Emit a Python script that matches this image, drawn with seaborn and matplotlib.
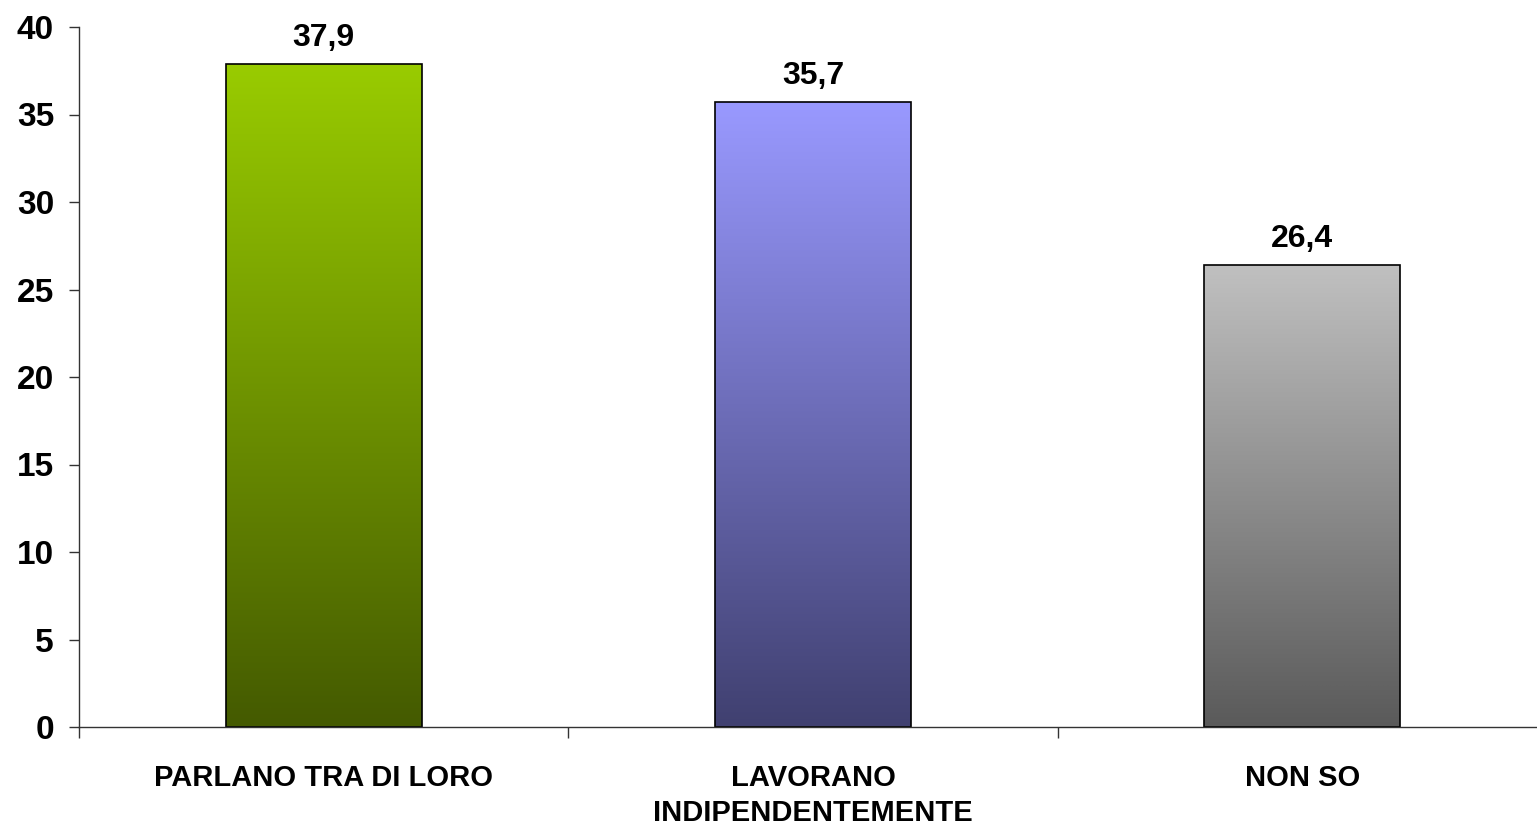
import numpy as np
import pandas as pd
import matplotlib
matplotlib.use("Agg")
import matplotlib.pyplot as plt
from matplotlib.colors import LinearSegmentedColormap
import seaborn as sns

categories = ["PARLANO TRA DI LORO", "LAVORANO\nINDIPENDENTEMENTE", "NON SO"]
values = [37.9, 35.7, 26.4]
value_labels = ["37,9", "35,7", "26,4"]
top_colors = ["#99cc00", "#9999ff", "#c0c0c0"]
bottom_colors = ["#445a00", "#404070", "#5a5a5a"]
y_ticks = [0, 5, 10, 15, 20, 25, 30, 35, 40]

sns.set_theme(style="white")
plt.rcParams["font.family"] = ["Liberation Sans", "DejaVu Sans"]
plt.rcParams["text.color"] = "black"
plt.rcParams["xtick.color"] = "black"
plt.rcParams["ytick.color"] = "black"

fig = plt.figure(figsize=(15.37, 8.26), dpi=100)
ax = fig.add_axes([79 / 1537, 1 - 727 / 826, 1468 / 1537, 700 / 826])

df = pd.DataFrame({"cat": categories, "val": values})
sns.barplot(data=df, x="cat", y="val", ax=ax, width=0.4,
            color="white", edgecolor="black", linewidth=1.2, saturation=1)

# vertical gradient fill for each bar, clipped to the bar outline
for patch, c_top, c_bot in zip(ax.patches, top_colors, bottom_colors):
    x0, y0 = patch.get_x(), patch.get_y()
    w, h = patch.get_width(), patch.get_height()
    cmap = LinearSegmentedColormap.from_list("g", [c_bot, c_top])
    grad = np.linspace(0, 1, 256).reshape(-1, 1)
    im = ax.imshow(grad, cmap=cmap, origin="lower", aspect="auto",
                   extent=[x0, x0 + w, y0, y0 + h], zorder=1.5)
    im.set_clip_path(patch)
    patch.set_facecolor("none")
    patch.set_zorder(2)

for i, (v, lab) in enumerate(zip(values, value_labels)):
    ax.annotate(lab, (i, v), xytext=(0, 13), textcoords="offset points",
                ha="center", va="baseline", fontsize=23, fontweight="bold",
                color="black")

ax.set_xlim(-0.5, 2.5)
ax.set_ylim(0, 40)
ax.set_yticks(y_ticks)
ax.set_yticklabels([str(t) for t in y_ticks], fontsize=24, fontweight="bold",
                   color="black")
ax.set_xticks(range(len(categories)))
ax.set_xticklabels(categories, fontsize=21, fontweight="bold",
                   linespacing=1.3, color="black")
ax.set_xticks([-0.5, 0.5, 1.5, 2.5], minor=True)
ax.tick_params(axis="x", which="major", length=0, pad=27)
ax.tick_params(axis="x", which="minor", length=8, width=1, color="#333333",
               direction="out", bottom=True)
ax.tick_params(axis="y", which="major", length=7, width=1, color="#333333",
               direction="out", left=True, pad=11)
ax.set_xlabel("")
ax.set_ylabel("")
ax.grid(False)

for side in ["top", "right"]:
    ax.spines[side].set_visible(False)
for side in ["left", "bottom"]:
    ax.spines[side].set_color("#333333")
    ax.spines[side].set_linewidth(1)

fig.savefig("out.png", dpi=100, facecolor="white")
